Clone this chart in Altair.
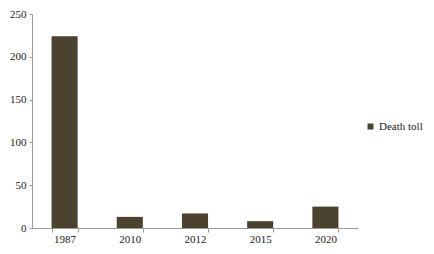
import altair as alt
import pandas as pd

years = ["1987", "2010", "2012", "2015", "2020"]
deaths = [224, 13, 17, 8, 25]
series = ["Death toll"] * len(years)

df = pd.DataFrame({"year": years, "deaths": deaths, "series": series})

W, H = 326, 214
PL, PT, PR, PB = 24, 6, 68, 18
FONT = "Liberation Serif"

bars = alt.Chart(df).mark_bar().encode(
    x=alt.X("year:N", sort=years, title=None,
            scale=alt.Scale(paddingInner=0.6, paddingOuter=0.3),
            axis=alt.Axis(labelAngle=0, tickBand="extent", domainColor="#9a9a9a",
                          tickColor="#9a9a9a", tickSize=4, labelPadding=1,
                          labelFont=FONT, labelFontSize=11, labelColor="#222222")),
    y=alt.Y("deaths:Q", title=None,
            scale=alt.Scale(domain=[0, 250]),
            axis=alt.Axis(values=[0, 50, 100, 150, 200, 250], grid=False,
                          domainColor="#9a9a9a", tickColor="#9a9a9a", tickSize=3,
                          labelPadding=3, labelFont=FONT, labelFontSize=11,
                          labelColor="#222222")),
    color=alt.Color("series:N", title=None,
                    scale=alt.Scale(range=["#4b4330"]),
                    legend=alt.Legend(orient="none", legendX=333, legendY=107,
                                      padding=0, labelOffset=3,
                                      symbolType="square", symbolSize=36,
                                      symbolStrokeWidth=0,
                                      labelFont=FONT, labelFontSize=11,
                                      labelColor="#222222")),
)

chart = bars.properties(
    width=W, height=H,
    autosize=alt.AutoSizeParams(type="none"),
    padding={"left": PL, "top": PT, "right": PR, "bottom": PB},
).configure_view(stroke=None)

chart.save("out.html", embed_options={"renderer": "svg", "actions": False})
